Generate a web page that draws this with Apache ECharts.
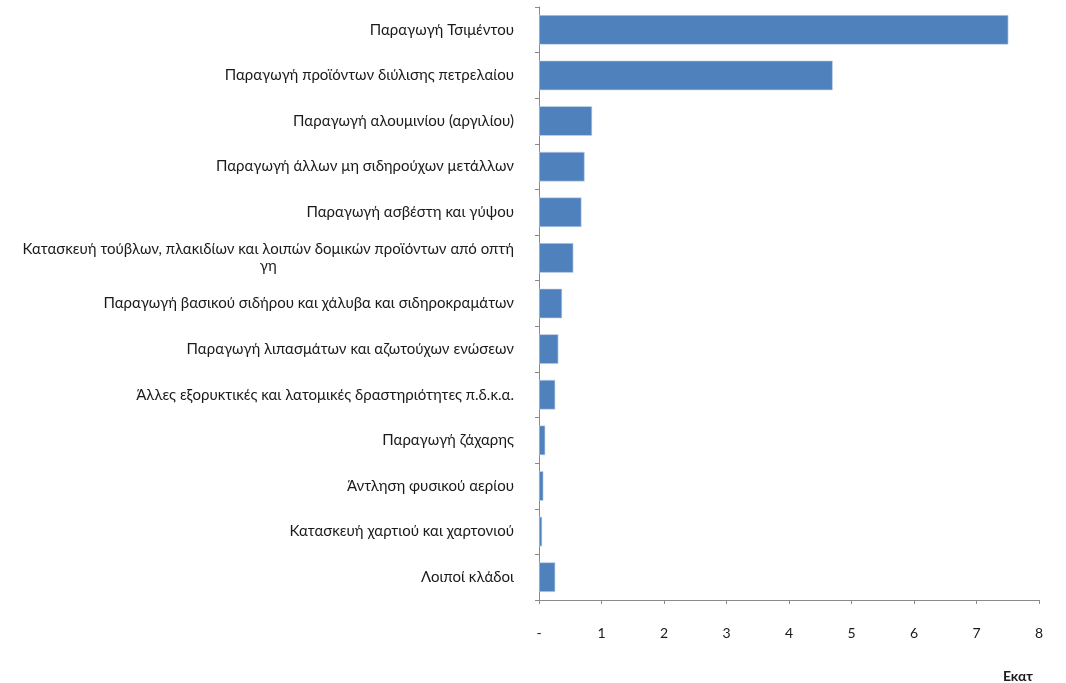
<!DOCTYPE html>
<html>
<head>
<meta charset="utf-8">
<script src="https://cdn.jsdelivr.net/npm/echarts@6/dist/echarts.min.js"></script>
<style>
  html, body { margin: 0; padding: 0; background: #ffffff; }
  #chart { width: 1066px; height: 683px; }
</style>
</head>
<body>
<div id="chart"></div>
<script>
// Industry branches (top to bottom)
const categories = [
  'Παραγωγή Τσιμέντου',
  'Παραγωγή προϊόντων διύλισης πετρελαίου',
  'Παραγωγή αλουμινίου (αργιλίου)',
  'Παραγωγή άλλων μη σιδηρούχων μετάλλων',
  'Παραγωγή ασβέστη και γύψου',
  'Κατασκευή τούβλων, πλακιδίων και λοιπών δομικών προϊόντων από οπτή γη',
  'Παραγωγή βασικού σιδήρου και χάλυβα και σιδηροκραμάτων',
  'Παραγωγή λιπασμάτων και αζωτούχων ενώσεων',
  'Άλλες εξορυκτικές και λατομικές δραστηριότητες π.δ.κ.α.',
  'Παραγωγή ζάχαρης',
  'Άντληση φυσικού αερίου',
  'Κατασκευή χαρτιού και χαρτονιού',
  'Λοιποί κλάδοι'
];

// Values in millions
const values = [7.51, 4.70, 0.85, 0.73, 0.68, 0.55, 0.37, 0.31, 0.26, 0.10, 0.07, 0.05, 0.26];

// X-axis tick labels (0 is shown as a dash)
const xTickLabels = ['-', '1', '2', '3', '4', '5', '6', '7', '8'];

const unitLabel = 'Εκατ';

const FONT = 'Lato, "Noto Sans", sans-serif';
const TEXT_COLOR = '#1a1a1a';
const AXIS_COLOR = '#8a8a8a';

const chart = echarts.init(document.getElementById('chart'));

chart.setOption({
  animation: false,
  backgroundColor: '#ffffff',
  title: {
    text: unitLabel,
    right: 28,
    top: 664,
    textStyle: { fontFamily: FONT, fontSize: 14, fontWeight: 'bold', color: TEXT_COLOR }
  },
  grid: { left: 539, right: 27, top: 7, bottom: 83, containLabel: false },
  xAxis: {
    type: 'value',
    min: 0,
    max: 8,
    interval: 1,
    splitLine: { show: false },
    axisLine: { show: true, lineStyle: { color: AXIS_COLOR, width: 1 } },
    axisTick: { show: true, length: 4, lineStyle: { color: AXIS_COLOR } },
    axisLabel: {
      margin: 26,
      fontFamily: FONT,
      fontSize: 14,
      color: TEXT_COLOR,
      formatter: (v) => xTickLabels[Math.round(v)]
    }
  },
  yAxis: {
    type: 'category',
    data: categories,
    inverse: true,
    axisLine: { show: true, lineStyle: { color: AXIS_COLOR, width: 1 } },
    axisTick: { show: true, length: 4, lineStyle: { color: AXIS_COLOR } },
    splitLine: { show: false },
    axisLabel: {
      margin: 25,
      fontFamily: FONT,
      fontSize: 15,
      color: TEXT_COLOR,
      lineHeight: 17,
      formatter: (name) => {
        if (name.length > 60) {
          const cut = name.lastIndexOf(' ');
          return '{a|' + name.slice(0, cut) + '}\n{c|' + name.slice(cut + 1) + '}';
        }
        return name;
      },
      rich: {
        a: { fontFamily: FONT, fontSize: 15, color: TEXT_COLOR, lineHeight: 17 },
        c: { fontFamily: FONT, fontSize: 15, color: TEXT_COLOR, lineHeight: 17, align: 'center' }
      }
    }
  },
  series: [{
    type: 'bar',
    data: values,
    barCategoryGap: '35%',
    itemStyle: { color: '#4f81bd', borderColor: '#c9d8ee', borderWidth: 0.6 }
  }]
});
</script>
</body>
</html>
